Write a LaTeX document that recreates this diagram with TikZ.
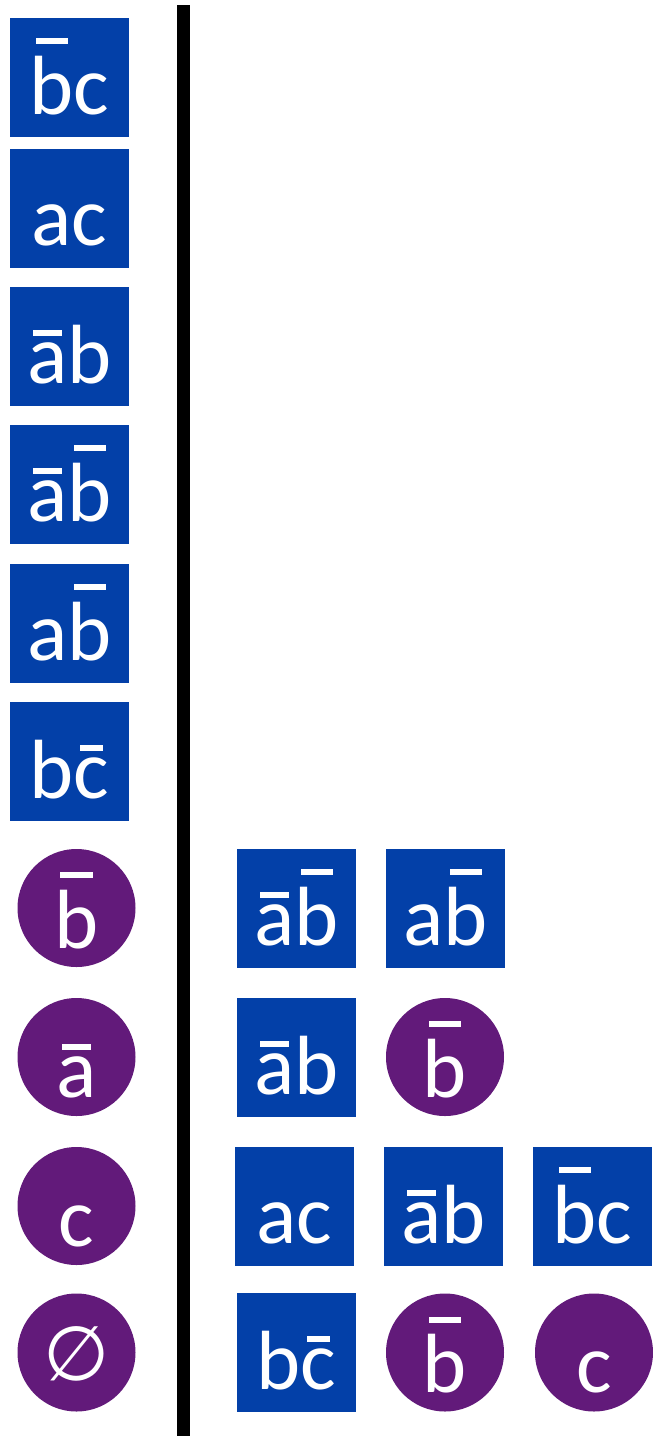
\documentclass[tikz,border=0pt]{standalone}
\usepackage{fontspec}
\setmainfont{Carlito}
\newfontfamily\symfont{DejaVu Sans}
\usepackage{xcolor}
\definecolor{termblue}{HTML}{0340A8}
\definecolor{litpurple}{HTML}{621A7A}
% negated variable: a bar over the letter (optional arg = height of the bar)
\newcommand{\nbar}[2][70pt]{\setbox0\hbox{#2}\rlap{\hbox to\wd0{\hss\rule[#1]{\dimexpr\wd0-12pt\relax}{6pt}\hss}}\box0}
\tikzset{
	term/.style={fill=termblue, text=white, inner sep=0pt, minimum width=119pt,
		text height=96pt, text depth=23pt, font=\fontsize{84}{84}\selectfont},
	lit/.style={circle, fill=litpurple, text=white, inner sep=0pt, minimum size=118pt,
		text height=80pt, text depth=0pt, font=\fontsize{84}{84}\selectfont}
}

\begin{document}
\begin{tikzpicture}[x=1pt, y=-1pt]
	\useasboundingbox (0,0) rectangle (653,1436);
	% left column
	\node[term] (l1) at (69.5,77.5) {\nbar{b}c};
	\node[term] (l2) at (69.5,208.5) {ac};
	\node[term] (l3) at (69.5,346.5) {\nbar[47pt]{a}b};
	\node[term] (l4) at (69.5,484.5) {\nbar[47pt]{a}\nbar{b}};
	\node[term] (l5) at (69.5,623.5) {a\nbar{b}};
	\node[term] (l6) at (69.5,761.5) {b\nbar[47pt]{c}};
	\node[lit] (l7) at (76.5,908) {\nbar{b}};
	\node[lit] (l8) at (76.5,1057) {\nbar[47pt]{a}};
	\node[lit] (l9) at (76.5,1206) {c};
	\node[lit] (l10) at (76.5,1352.5) {\symfont\fontsize{76}{76}\selectfont\raisebox{12pt}{∅}};
	% separator
	\coordinate (top) at (183,5);
	\coordinate (bot) at (183,1436);
	\draw[line width=13pt] (top) -- (bot);
	% right side
	\node[term] (r11) at (296.5,908.5) {\nbar[47pt]{a}\nbar{b}};
	\node[term] (r12) at (445.5,908.5) {a\nbar{b}};
	\node[term] (r21) at (296.5,1057.5) {\nbar[47pt]{a}b};
	\node[lit] (r22) at (445,1057) {\nbar{b}};
	\node[term] (r31) at (294.5,1206.5) {ac};
	\node[term] (r32) at (443.5,1206.5) {\nbar[47pt]{a}b};
	\node[term] (r33) at (592.5,1206.5) {\nbar{b}c};
	\node[term] (r41) at (296.5,1352.5) {b\nbar[47pt]{c}};
	\node[lit] (r42) at (445,1352.5) {\nbar{b}};
	\node[lit] (r43) at (594,1352.5) {c};
\end{tikzpicture}
\end{document}
